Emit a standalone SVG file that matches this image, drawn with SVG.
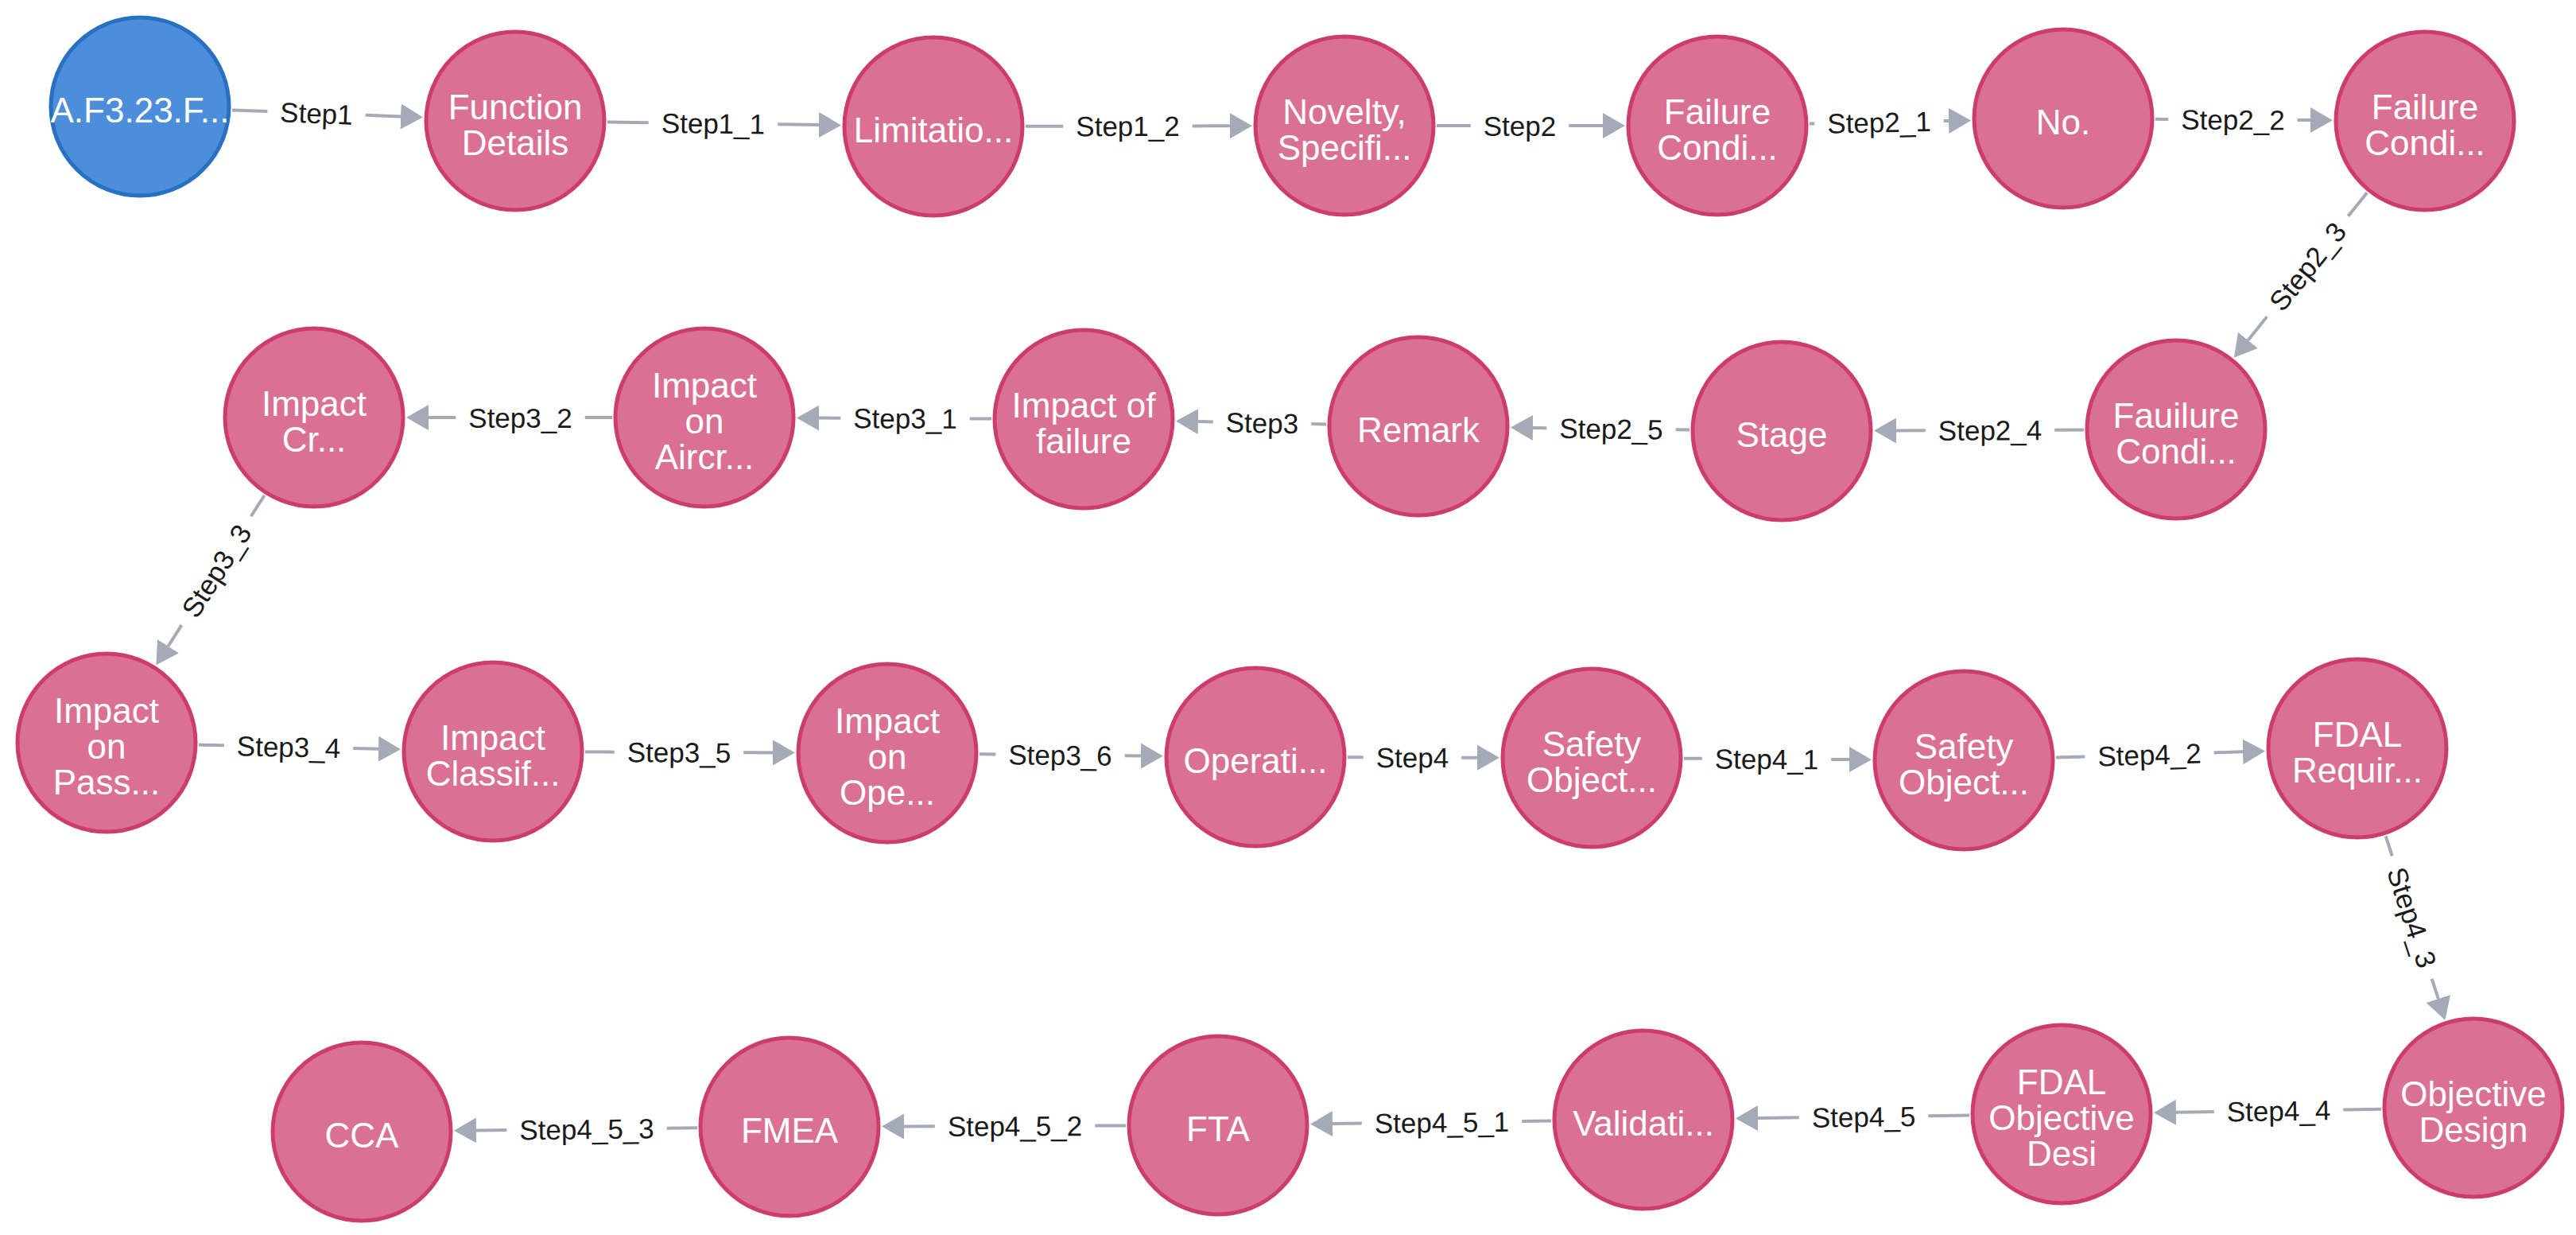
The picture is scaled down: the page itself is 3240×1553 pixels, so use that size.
<svg xmlns="http://www.w3.org/2000/svg" width="3240" height="1553" viewBox="0 0 3240 1553">
<defs>
<marker id="arr" markerUnits="userSpaceOnUse" markerWidth="30" markerHeight="34" refX="0" refY="16" orient="auto" viewBox="0 0 30 34">
<path d="M0,0 L28,16 L0,32 Z" fill="#A5ABB6"/>
</marker>
<style>
.n circle{fill:#DA7194;stroke:#CC3C6C;stroke-width:5}
.b circle{fill:#4C8EDA;stroke:#2870C2;stroke-width:5}
.n text,.b text{fill:#fff;font-family:"Liberation Sans",Arial,sans-serif;font-size:44px;text-anchor:middle}
.e line{stroke:#A5ABB6;stroke-width:4}
.e line.h{marker-end:url(#arr)}
.e text{fill:#1a1a1a;font-family:"Liberation Sans",Arial,sans-serif;font-size:35px;text-anchor:middle;dominant-baseline:central}
</style>
</defs>
<rect width="3240" height="1553" fill="#fff"/>
<g id="edges">
<g class="e" id="e1" transform="translate(291.9,138.4) rotate(2.18)"><line x1="0" y1="0" x2="44.5" y2="0"/><line class="h" x1="167.9" y1="0" x2="212.3" y2="0"/><text x="106.2" y="0">Step1</text></g>
<g class="e" id="e2" transform="translate(764,153.5) rotate(0.76)"><line x1="0" y1="0" x2="51.8" y2="0"/><line class="h" x1="214.2" y1="0" x2="266" y2="0"/><text x="133" y="0">Step1_1</text></g>
<g class="e" id="e3" transform="translate(1290,158.8) rotate(-0.11)"><line x1="0" y1="0" x2="47.3" y2="0"/><line class="h" x1="209.7" y1="0" x2="257" y2="0"/><text x="128.5" y="0">Step1_2</text></g>
<g class="e" id="e4" transform="translate(1807,158) rotate(0)"><line x1="0" y1="0" x2="42.8" y2="0"/><line class="h" x1="166.2" y1="0" x2="209" y2="0"/><text x="104.5" y="0">Step2</text></g>
<g class="e" id="e5" transform="translate(2276,155.6) rotate(-1.19)"><line x1="0" y1="0" x2="6.3" y2="0"/><line class="h" x1="168.7" y1="0" x2="175.1" y2="0"/><text x="87.5" y="0">Step2_1</text></g>
<g class="e" id="e6" transform="translate(2711,149.8) rotate(0.38)"><line x1="0" y1="0" x2="16.3" y2="0"/><line class="h" x1="178.7" y1="0" x2="195" y2="0"/><text x="97.5" y="0">Step2_2</text></g>
<g class="e" id="e7" transform="translate(2977.2,242.3) rotate(128.9)"><line x1="0" y1="0" x2="38" y2="0"/><line class="h" x1="200.5" y1="0" x2="238.5" y2="0"/><text x="119.25" y="0" transform="rotate(180 119.25 0)">Step2_3</text></g>
<g class="e" id="e8" transform="translate(2621,540.5) rotate(179.77)"><line x1="0" y1="0" x2="36.8" y2="0"/><line class="h" x1="199.2" y1="0" x2="236" y2="0"/><text x="118" y="0" transform="rotate(180 118 0)">Step2_4</text></g>
<g class="e" id="e9" transform="translate(2125,540.5) rotate(-179.25)"><line x1="0" y1="0" x2="17.3" y2="0"/><line class="h" x1="179.7" y1="0" x2="197" y2="0"/><text x="98.5" y="0" transform="rotate(180 98.5 0)">Step2_5</text></g>
<g class="e" id="e10" transform="translate(1668,533.5) rotate(-178.78)"><line x1="0" y1="0" x2="18.8" y2="0"/><line class="h" x1="142.2" y1="0" x2="161.1" y2="0"/><text x="80.5" y="0" transform="rotate(180 80.5 0)">Step3</text></g>
<g class="e" id="e11" transform="translate(1247,526.5) rotate(-179.76)"><line x1="0" y1="0" x2="27.3" y2="0"/><line class="h" x1="189.7" y1="0" x2="217" y2="0"/><text x="108.5" y="0" transform="rotate(180 108.5 0)">Step3_1</text></g>
<g class="e" id="e12" transform="translate(770,525) rotate(180)"><line x1="0" y1="0" x2="34.3" y2="0"/><line class="h" x1="196.7" y1="0" x2="231" y2="0"/><text x="115.5" y="0" transform="rotate(180 115.5 0)">Step3_2</text></g>
<g class="e" id="e13" transform="translate(332.6,622.8) rotate(122.54)"><line x1="0" y1="0" x2="31.4" y2="0"/><line class="h" x1="193.8" y1="0" x2="225.2" y2="0"/><text x="112.6" y="0" transform="rotate(180 112.6 0)">Step3_3</text></g>
<g class="e" id="e14" transform="translate(250,936.6) rotate(1.3)"><line x1="0" y1="0" x2="31.9" y2="0"/><line class="h" x1="194.3" y1="0" x2="226.1" y2="0"/><text x="113.1" y="0">Step3_4</text></g>
<g class="e" id="e15" transform="translate(736,945.5) rotate(0.23)"><line x1="0" y1="0" x2="36.8" y2="0"/><line class="h" x1="199.2" y1="0" x2="236" y2="0"/><text x="118" y="0">Step3_5</text></g>
<g class="e" id="e16" transform="translate(1232,948.3) rotate(0.62)"><line x1="0" y1="0" x2="20.3" y2="0"/><line class="h" x1="182.7" y1="0" x2="203" y2="0"/><text x="101.5" y="0">Step3_6</text></g>
<g class="e" id="e17" transform="translate(1695,952.3) rotate(0.14)"><line x1="0" y1="0" x2="19.8" y2="0"/><line class="h" x1="143.2" y1="0" x2="163" y2="0"/><text x="81.5" y="0">Step4</text></g>
<g class="e" id="e18" transform="translate(2118,953.7) rotate(0.37)"><line x1="0" y1="0" x2="22.8" y2="0"/><line class="h" x1="185.2" y1="0" x2="208" y2="0"/><text x="104" y="0">Step4_1</text></g>
<g class="e" id="e19" transform="translate(2585.9,952.5) rotate(-1.74)"><line x1="0" y1="0" x2="36.4" y2="0"/><line class="h" x1="198.8" y1="0" x2="235.2" y2="0"/><text x="117.6" y="0">Step4_2</text></g>
<g class="e" id="e20" transform="translate(3000.7,1051.4) rotate(72.1)"><line x1="0" y1="0" x2="26.3" y2="0"/><line class="h" x1="188.7" y1="0" x2="215" y2="0"/><text x="107.5" y="0">Step4_3</text></g>
<g class="e" id="e21" transform="translate(2995,1394.8) rotate(179.12)"><line x1="0" y1="0" x2="47.8" y2="0"/><line class="h" x1="210.2" y1="0" x2="258.1" y2="0"/><text x="129" y="0" transform="rotate(180 129 0)">Step4_4</text></g>
<g class="e" id="e22" transform="translate(2477,1402.5) rotate(179.24)"><line x1="0" y1="0" x2="51.8" y2="0"/><line class="h" x1="214.2" y1="0" x2="266" y2="0"/><text x="133" y="0" transform="rotate(180 133 0)">Step4_5</text></g>
<g class="e" id="e23" transform="translate(1951,1409.5) rotate(179.25)"><line x1="0" y1="0" x2="36.8" y2="0"/><line class="h" x1="238.2" y1="0" x2="275" y2="0"/><text x="137.5" y="0" transform="rotate(180 137.5 0)">Step4_5_1</text></g>
<g class="e" id="e24" transform="translate(1416,1415.4) rotate(179.79)"><line x1="0" y1="0" x2="38.8" y2="0"/><line class="h" x1="240.2" y1="0" x2="279" y2="0"/><text x="139.5" y="0" transform="rotate(180 139.5 0)">Step4_5_2</text></g>
<g class="e" id="e25" transform="translate(877,1418.3) rotate(179.36)"><line x1="0" y1="0" x2="38.3" y2="0"/><line class="h" x1="239.7" y1="0" x2="278" y2="0"/><text x="139" y="0" transform="rotate(180 139 0)">Step4_5_3</text></g>
</g>
<g id="n0" class="b" transform="translate(176,134)"><circle r="112"/><text y="20">A.F3.23.F...</text></g>
<g id="n1" class="n" transform="translate(648,152)"><circle r="112"/><text y="-2.5">Function</text><text y="42.5">Details</text></g>
<g id="n2" class="n" transform="translate(1174,159)"><circle r="112"/><text y="20">Limitatio...</text></g>
<g id="n3" class="n" transform="translate(1691,158)"><circle r="112"/><text y="-2.5">Novelty,</text><text y="42.5">Specifi...</text></g>
<g id="n4" class="n" transform="translate(2160,158)"><circle r="112"/><text y="-2.5">Failure</text><text y="42.5">Condi...</text></g>
<g id="n5" class="n" transform="translate(2595,149)"><circle r="112"/><text y="20">No.</text></g>
<g id="n6" class="n" transform="translate(3050,152)"><circle r="112"/><text y="-2.5">Failure</text><text y="42.5">Condi...</text></g>
<g id="n7" class="n" transform="translate(2737,540)"><circle r="112"/><text y="-2.5">Fauilure</text><text y="42.5">Condi...</text></g>
<g id="n8" class="n" transform="translate(2241,542)"><circle r="112"/><text y="20">Stage</text></g>
<g id="n9" class="n" transform="translate(1784,536)"><circle r="112"/><text y="20">Remark</text></g>
<g id="n10" class="n" transform="translate(1363,527)"><circle r="112"/><text y="-2.5">Impact of</text><text y="42.5">failure</text></g>
<g id="n11" class="n" transform="translate(886,525)"><circle r="112"/><text y="-25">Impact</text><text y="20">on</text><text y="65">Aircr...</text></g>
<g id="n12" class="n" transform="translate(395,525)"><circle r="112"/><text y="-2.5">Impact</text><text y="42.5">Cr...</text></g>
<g id="n13" class="n" transform="translate(134,934)"><circle r="112"/><text y="-25">Impact</text><text y="20">on</text><text y="65">Pass...</text></g>
<g id="n14" class="n" transform="translate(620,945)"><circle r="112"/><text y="-2.5">Impact</text><text y="42.5">Classif...</text></g>
<g id="n15" class="n" transform="translate(1116,947)"><circle r="112"/><text y="-25">Impact</text><text y="20">on</text><text y="65">Ope...</text></g>
<g id="n16" class="n" transform="translate(1579,952)"><circle r="112"/><text y="20">Operati...</text></g>
<g id="n17" class="n" transform="translate(2002,953)"><circle r="112"/><text y="-2.5">Safety</text><text y="42.5">Object...</text></g>
<g id="n18" class="n" transform="translate(2470,956)"><circle r="112"/><text y="-2.5">Safety</text><text y="42.5">Object...</text></g>
<g id="n19" class="n" transform="translate(2965,941)"><circle r="112"/><text y="-2.5">FDAL</text><text y="42.5">Requir...</text></g>
<g id="n20" class="n" transform="translate(3111,1393)"><circle r="112"/><text y="-2.5">Objective</text><text y="42.5">Design</text></g>
<g id="n21" class="n" transform="translate(2593,1401)"><circle r="112"/><text y="-25">FDAL</text><text y="20">Objective</text><text y="65">Desi</text></g>
<g id="n22" class="n" transform="translate(2067,1408)"><circle r="112"/><text y="20">Validati...</text></g>
<g id="n23" class="n" transform="translate(1532,1415)"><circle r="112"/><text y="20">FTA</text></g>
<g id="n24" class="n" transform="translate(993,1417)"><circle r="112"/><text y="20">FMEA</text></g>
<g id="n25" class="n" transform="translate(455,1423)"><circle r="112"/><text y="20">CCA</text></g>
</svg>
